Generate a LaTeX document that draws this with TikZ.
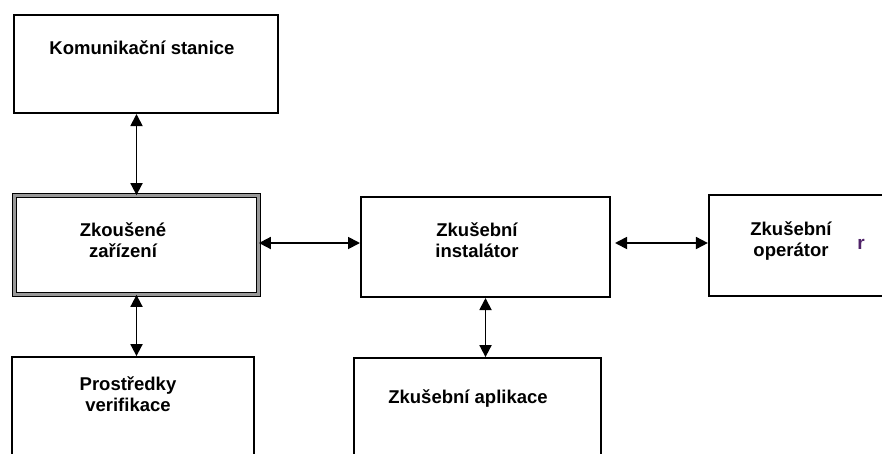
\documentclass[tikz,border=0pt]{standalone}
\usepackage{fontspec}
\setmainfont{Liberation Sans}
\usetikzlibrary{arrows.meta}
\definecolor{stray}{RGB}{80,35,105}
\tikzset{
  blok/.style={draw,line width=1.8pt,inner sep=0pt},
  popis/.style={align=center,inner sep=0pt,font=\fontsize{18.5}{21}\selectfont\bfseries},
  sipka/.style={line width=1.8pt,{Triangle[length=12pt,width=12pt]}-{Triangle[length=12pt,width=12pt]}}
}
\begin{document}
\begin{tikzpicture}[x=1pt,y=-1pt]
\clip (0,0) rectangle (882,453);
\fill[white] (0,0) rectangle (882,453);
% boxes
\node[blok,minimum width=264.2pt,minimum height=98.2pt] (kom) at (146,64) {};
\node[draw,line width=1.2pt,double=gray!80,double distance=3pt,inner sep=0pt,
      minimum width=243.6pt,minimum height=98.6pt] (zk) at (136.5,245) {};
\node[blok,minimum width=242.2pt,minimum height=140pt] (pro) at (133,427) {};
\node[blok,minimum width=249.2pt,minimum height=100.2pt] (inst) at (485.5,247) {};
\node[blok,minimum width=200pt,minimum height=101.2pt] (op) at (808.8,245.5) {};
\node[blok,minimum width=247.2pt,minimum height=140pt] (app) at (477.5,428) {};
% labels
\node[popis] (kom-t) at (142,47.5) {Komunikační stanice};
\node[popis] (zk-t) at (123,240) {Zkoušené\\zařízení};
\node[popis] (pro-t) at (128,394) {Prostředky\\verifikace};
\node[popis] (inst-t) at (477,240) {Zkušební\\instalátor};
\node[popis] (op-t) at (791,241.5) {Zkušební\\operátor};
\node[popis] (app-t) at (468,398.5) {Zkušební aplikace};
\node[inner sep=0pt,font=\fontsize{19}{19}\selectfont\bfseries,text=stray] (znak) at (861,244) {r};
% connectors
\draw[sipka] (zk.north) -- (zk.north |- kom.south);
\draw[sipka] (zk.south) -- (zk.south |- pro.north);
\draw[sipka] ([yshift=2pt]zk.east) -- ([yshift=2pt]zk.east -| inst.west);
\draw[sipka,shorten <=4pt] ([yshift=4pt]inst.east) -- ([yshift=4pt]inst.east -| op.west);
\draw[sipka] (inst.south) -- (inst.south |- app.north);
\end{tikzpicture}
\end{document}
